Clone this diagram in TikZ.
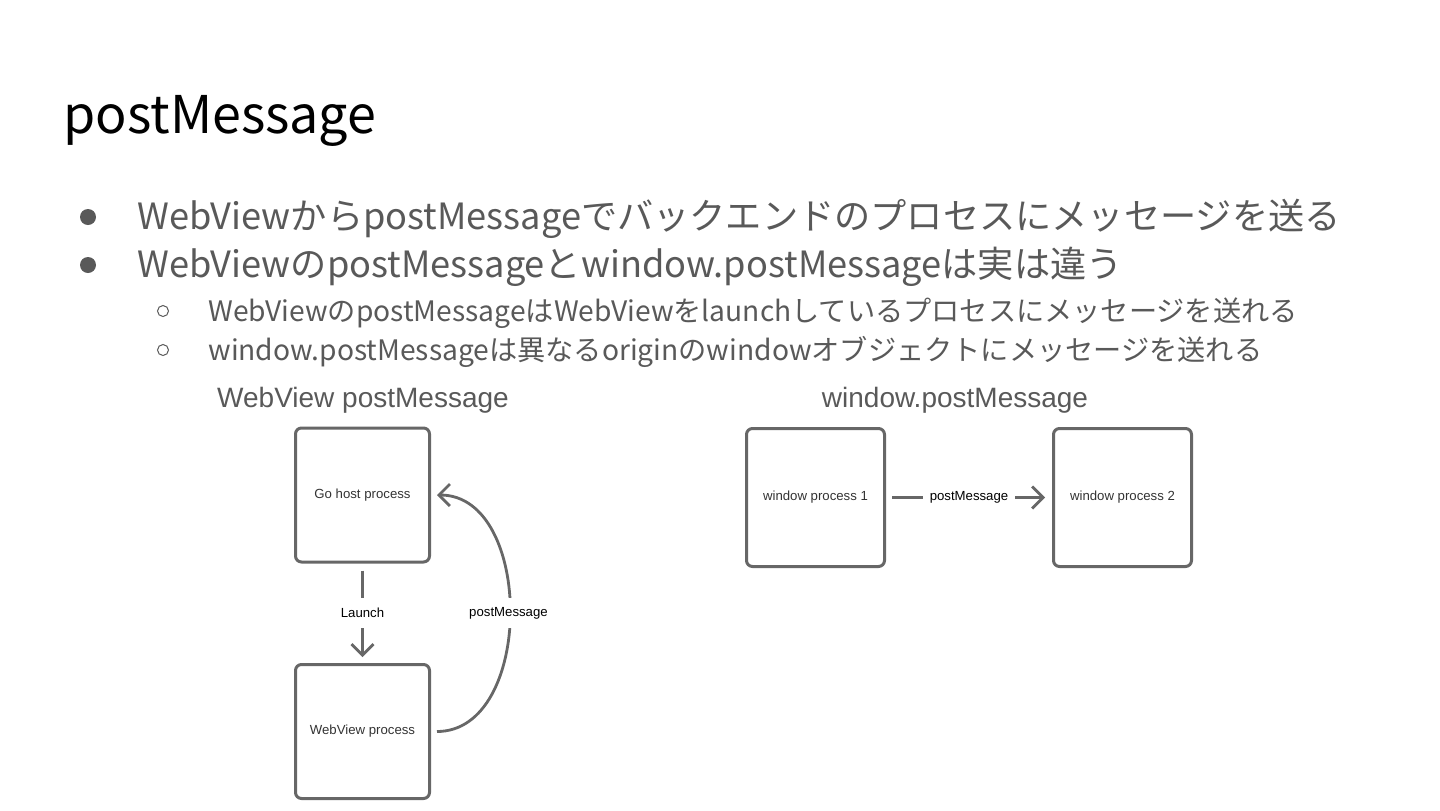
\documentclass[tikz,border=0pt]{standalone}
\usepackage{fontspec}
\setmainfont{Liberation Sans}
\newfontfamily\jpfont{Noto Sans CJK JP}
\usepackage{xcolor}
\definecolor{cText}{HTML}{595959}
\definecolor{cLine}{HTML}{676767}
\definecolor{cDark}{HTML}{333333}
\usetikzlibrary{arrows.meta}
\tikzset{
  slide-title/.style={anchor=base west,inner sep=0pt,text=black,
    font=\jpfont\fontsize{26}{30}\selectfont},
  slide-item/.style={anchor=base west,inner sep=0pt,text=cText,
    font=\jpfont\fontsize{18.1}{21}\selectfont},
  slide-subitem/.style={anchor=base west,inner sep=0pt,text=cText,
    font=\jpfont\fontsize{14.1}{17}\selectfont},
  bullet-dot/.style={circle,fill=cText,inner sep=0pt,minimum size=8pt},
  bullet-ring/.style={circle,draw=cText,line width=0.5pt,inner sep=0pt,minimum size=5.5pt},
  diagram-head/.style={anchor=base,inner sep=0pt,text=cText,
    font=\fontsize{14}{16}\selectfont},
  node-proc/.style={draw=cLine,line width=1.5pt,rounded corners=3pt,
    minimum width=67pt,minimum height=67pt,align=center,text=cDark,
    font=\fontsize{6.6}{8}\selectfont},
  node-proc-wide/.style={node-proc,minimum width=69pt,minimum height=69pt},
  edge-label/.style={fill=white,text=black,inner xsep=3.5pt,
    minimum height=15pt,font=\fontsize{6.6}{8}\selectfont},
  arrow/.style={-{Straight Barb[length=5.5pt,width=11pt]},line width=1.4pt,
    draw=cLine},
}

\begin{document}
\begin{tikzpicture}[x=0.5pt,y=-0.5pt]
  \useasboundingbox (0,0) rectangle (1440,810);
  % slide text
  \node[slide-title] (title) at (63,133) {postMessage};
  \foreach \y/\txt [count=\i] in {229/WebViewからpostMessageでバックエンドのプロセスにメッセージを送る,
      277/WebViewのpostMessageとwindow.postMessageは実は違う} {
    \node[bullet-dot] (dot\i) at (88,\y-12) {};
    \node[slide-item] (item\i) at (137,\y) {\txt};
  }
  \foreach \y/\txt [count=\i] in {321/WebViewのpostMessageはWebViewをlaunchしているプロセスにメッセージを送れる,
      360/window.postMessageは異なるoriginのwindowオブジェクトにメッセージを送れる} {
    \node[bullet-ring] (ring\i) at (163,\y-10) {};
    \node[slide-subitem] (sub\i) at (208,\y) {\txt};
  }
  % left diagram
  \node[diagram-head] (headL) at (363,407) {WebView postMessage};
  \node[node-proc] (host) at (362.5,495) {Go host process};
  \node[node-proc] (wv) at (362.5,731.5) {WebView process};
  \draw[arrow,shorten <=3.5pt,shorten >=3pt] (host) -- node[edge-label] {Launch} (wv);
  \draw[arrow,shorten <=3pt,shorten >=3pt] (wv.east) to[out=0,in=0,looseness=1.12]
    node[edge-label] {postMessage} (host.east);
  % right diagram
  \node[diagram-head] (headR) at (955,407) {window.postMessage};
  \node[node-proc-wide] (win1) at (815.5,497.5) {window process 1};
  \node[node-proc-wide] (win2) at (1122.5,497.5) {window process 2};
  \draw[arrow,shorten <=3pt,shorten >=3.5pt] (win1) -- node[edge-label] {postMessage} (win2);
\end{tikzpicture}
\end{document}
